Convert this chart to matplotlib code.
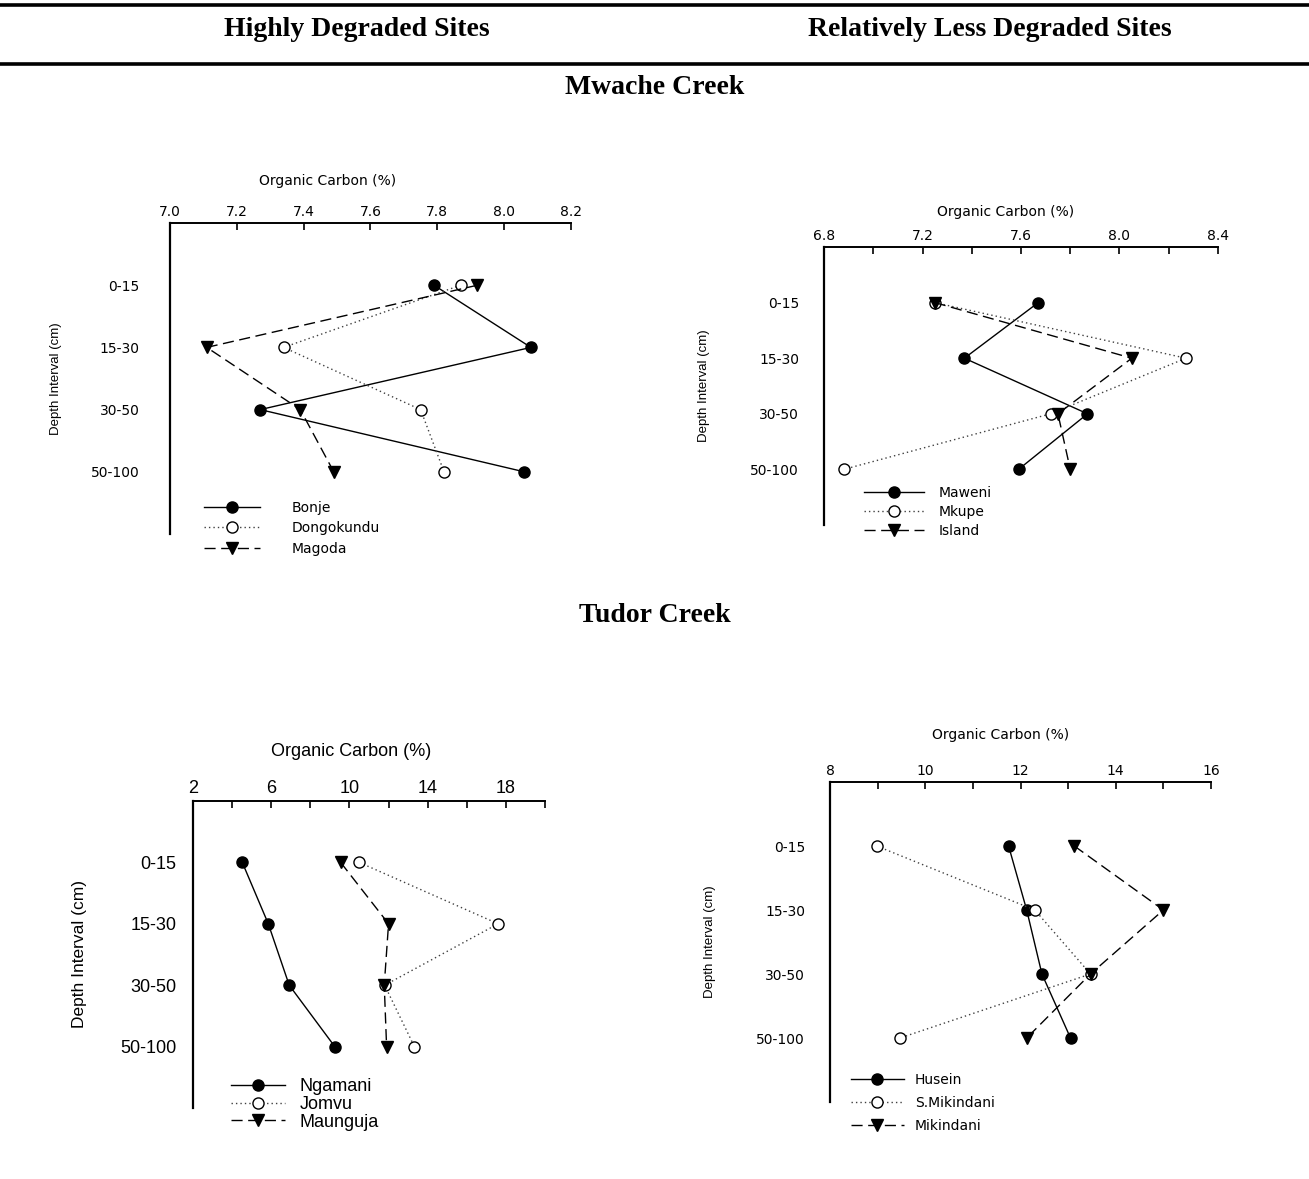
import numpy as np
import matplotlib
matplotlib.use('Agg')  # no display here
import matplotlib.pyplot as plt
from matplotlib.lines import Line2D

W, H = 1309, 1179

depths = ['0-15', '15-30', '30-50', '50-100']

# Mwache Creek, highly degraded
bonje = [7.79, 8.08, 7.27, 8.06]
dongokundu = [7.87, 7.34, 7.75, 7.82]
magoda = [7.92, 7.11, 7.39, 7.49]

# Mwache Creek, less degraded
maweni = [7.67, 7.37, 7.87, 7.59]
mkupe = [7.25, 8.27, 7.72, 6.88]
island = [7.25, 8.05, 7.75, 7.80]

# Tudor Creek, highly degraded
ngamani = [4.52, 5.85, 6.92, 9.25]
jomvu = [10.5, 17.6, 11.8, 13.32]
maunguja = [9.55, 12.0, 11.78, 11.9]

# Tudor Creek, less degraded
husein = [11.75, 12.13, 12.45, 13.05]
s_mikindani = [8.98, 12.3, 13.47, 9.47]
mikindani = [13.13, 15.0, 13.47, 12.13]

SPACED = 'DejaVu Sans'
PLAIN = 'Liberation Sans'


def px_rect(left, right, top, bottom):
    return [left / W, 1 - bottom / H, (right - left) / W, (bottom - top) / H]


def make_panel(fig, rect, names, series, xlim, major, minor, fam, fs,
               ylab_fs, ypad, ylab_x, title_xy, leg_xy, handlelen, textpad,
               lspace):
    ax = fig.add_axes(rect)
    pos = np.arange(1, len(depths) + 1)
    styles = [
        dict(marker='o', mfc='black', dashes=None, color='black'),
        dict(marker='o', mfc='white', dashes=(1, 2.2), color='0.25'),
        dict(marker='v', mfc='black', dashes=(8, 4), color='black'),
    ]
    for name, vals, st in zip(names, series, styles):
        kw = dict(color=st['color'], lw=1.0, marker=st['marker'], ms=8,
                  mfc=st['mfc'], mec='black', mew=1.0, label=name)
        if st['dashes']:
            kw['ls'] = '--'
            kw['dashes'] = st['dashes']
        ax.plot(vals, pos, **kw)

    ax.set_xlim(*xlim)
    ax.set_ylim(5, 0)
    ax.set_yticks(pos)
    ax.set_yticklabels(depths, family=fam, fontsize=fs)
    ax.set_xticks(np.arange(xlim[0], xlim[1] + 1e-9, minor), minor=True)
    ticks = np.arange(xlim[0], xlim[1] + 1e-9, major)
    ax.set_xticks(ticks)
    if major < 1:
        ax.set_xticklabels(['%.1f' % t for t in ticks], family=fam, fontsize=fs)
    else:
        ax.set_xticklabels(['%d' % t for t in ticks], family=fam, fontsize=fs)
    ax.xaxis.tick_top()
    ax.tick_params(axis='x', which='both', direction='in', length=5,
                   width=1.2, pad=3)
    ax.tick_params(axis='y', length=0, pad=ypad)
    for s in ['right', 'bottom']:
        ax.spines[s].set_visible(False)
    ax.spines['left'].set_linewidth(1.6)
    ax.spines['top'].set_linewidth(1.4)

    ax.set_ylabel('Depth Interval (cm)', family=PLAIN, fontsize=ylab_fs)
    ax.yaxis.set_label_coords(ylab_x, 0.5)

    fig.text(title_xy[0] / W, 1 - title_xy[1] / H, 'Organic Carbon (%)',
             family=fam, fontsize=fs, ha='center', va='center')

    ax.legend(loc='upper left', bbox_to_anchor=(leg_xy[0] / W, 1 - leg_xy[1] / H),
              bbox_transform=fig.transFigure, frameon=False, borderpad=0,
              borderaxespad=0, numpoints=1, handlelength=handlelen,
              handletextpad=textpad, labelspacing=lspace,
              prop=dict(family=fam, size=fs))
    return ax


fig = plt.figure(figsize=(W / 100, H / 100), dpi=100)

# header rules and titles
for yy in [5, 64]:
    fig.add_artist(Line2D([0, 1], [1 - yy / H, 1 - yy / H], color='black',
                          lw=2.6, transform=fig.transFigure))
hfont = dict(family='Liberation Serif', fontweight='bold', fontsize=20,
             ha='center', va='center')
fig.text(357 / W, 1 - 30 / H, 'Highly Degraded Sites', **hfont)
fig.text(990 / W, 1 - 30 / H, 'Relatively Less Degraded Sites', **hfont)
fig.text(655 / W, 1 - 87 / H, 'Mwache Creek', **hfont)
fig.text(655 / W, 1 - 615 / H, 'Tudor Creek', **hfont)

make_panel(fig, px_rect(170, 571, 223, 534), ['Bonje', 'Dongokundu', 'Magoda'],
           [bonje, dongokundu, magoda], (7.0, 8.2), 0.2, 0.2, SPACED, 10,
           9.5, 22, -0.27, (328, 181), (204, 501), 4.0, 2.3, 0.45)

make_panel(fig, px_rect(824, 1218, 247, 525), ['Maweni', 'Mkupe', 'Island'],
           [maweni, mkupe, island], (6.8, 8.4), 0.4, 0.2, SPACED, 10,
           9.5, 18, -0.29, (1006, 212), (864, 486), 4.3, 1.1, 0.35)

make_panel(fig, px_rect(193, 545, 801, 1108), ['Ngamani', 'Jomvu', 'Maunguja'],
           [ngamani, jomvu, maunguja], (2, 20), 4, 2, PLAIN, 13,
           12.5, 12, -0.30, (351, 752), (231, 1078), 3.0, 0.8, 0.05)

make_panel(fig, px_rect(830, 1211, 782, 1102), ['Husein', 'S.Mikindani', 'Mikindani'],
           [husein, s_mikindani, mikindani], (8, 16), 2, 1, SPACED, 10,
           9.5, 18, -0.30, (1001, 735), (851, 1073), 3.8, 0.8, 0.65)

plt.savefig('out.png', dpi=100)
